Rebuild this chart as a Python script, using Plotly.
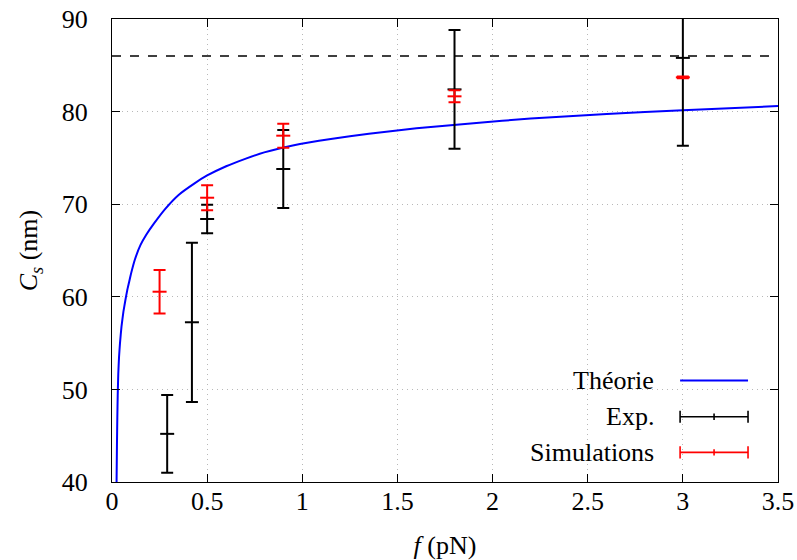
import plotly.graph_objects as go

# ---- data ----
theory_f = [0.024, 0.026, 0.028, 0.030, 0.033, 0.037, 0.042, 0.05, 0.06, 0.07, 0.08, 0.09, 0.10, 0.12, 0.15, 0.18, 0.22, 0.28, 0.35, 0.43, 0.50, 0.60, 0.70, 0.80, 0.95, 1.15, 1.35, 1.60, 1.90, 2.20, 2.60, 3.00, 3.50]
theory_c = [40.0, 44.0, 47.0, 49.3, 51.7, 53.5, 55.0, 56.8, 58.4, 59.6, 60.7, 61.6, 62.5, 64.0, 65.6, 66.7, 67.9, 69.5, 71.0, 72.2, 73.1, 74.1, 74.9, 75.6, 76.35, 77.05, 77.6, 78.2, 78.75, 79.25, 79.75, 80.15, 80.6]

exp_f = [0.29, 0.42, 0.50, 0.90, 1.80, 3.00]
exp_c = [45.2, 57.25, 68.4, 73.8, 82.4, 85.8]
exp_err = [4.2, 8.6, 1.55, 4.2, 6.4, 9.5]

sim_f = [0.25, 0.50, 0.90, 1.80, 3.00]
sim_c = [60.55, 70.7, 77.4, 81.65, 83.7]
sim_err = [2.35, 1.35, 1.3, 0.65, 0.1]

plateau_f = [0.0, 3.5]
plateau_c = [86.0, 86.0]

x_ticks = [0, 0.5, 1, 1.5, 2, 2.5, 3, 3.5]
x_ticklabels = ["0", "0.5", "1", "1.5", "2", "2.5", "3", "3.5"]
y_ticks = [40, 50, 60, 70, 80, 90]

legend_names = ["Théorie", "Exp.", "Simulations"]

BLUE = "#0000ff"
RED = "#ff0000"
BLACK = "#000000"
FONT = "Liberation Serif"
FS = 26

fig = go.Figure()

fig.add_trace(go.Scatter(x=plateau_f, y=plateau_c, mode="lines",
                         line=dict(color=BLACK, width=1.6, dash="dash"),
                         showlegend=False, hoverinfo="skip"))

fig.add_trace(go.Scatter(x=theory_f, y=theory_c, mode="lines",
                         line=dict(color=BLUE, width=2, shape="spline", smoothing=0.4),
                         showlegend=False))

fig.add_trace(go.Scatter(x=exp_f, y=exp_c, mode="markers",
                         marker=dict(symbol="line-ew", size=10, line=dict(color=BLACK, width=2)),
                         error_y=dict(type="data", array=exp_err, color=BLACK, thickness=2, width=6),
                         showlegend=False))

fig.add_trace(go.Scatter(x=sim_f, y=sim_c, mode="markers",
                         marker=dict(symbol="line-ew", size=10, line=dict(color=RED, width=2)),
                         error_y=dict(type="data", array=sim_err, color=RED, thickness=2, width=6),
                         showlegend=False))

# ---- manual legend (gnuplot style: text left, sample right) ----
shapes = [dict(type="rect", xref="paper", yref="paper", x0=0.595, x1=0.995, y0=0.01, y1=0.268,
               fillcolor="white", line=dict(width=0), layer="between")]
rows_y = [0.219, 0.141, 0.064]
sx0, sx1, smid = 0.853, 0.955, 0.904
cap = 0.013
colors = [BLUE, BLACK, RED]
annotations = []
for i, (name, yy, col) in enumerate(zip(legend_names, rows_y, colors)):
    annotations.append(dict(text=name, xref="paper", yref="paper", x=0.817, y=yy,
                            xanchor="right", yanchor="middle", showarrow=False,
                            font=dict(family=FONT, size=FS, color=BLACK)))
    w = 2 if i == 0 else 1.6
    shapes.append(dict(type="line", xref="paper", yref="paper", x0=sx0, x1=sx1, y0=yy, y1=yy,
                       line=dict(color=col, width=w), layer="above"))
    if i > 0:
        for xx in (sx0, sx1):
            shapes.append(dict(type="line", xref="paper", yref="paper", x0=xx, x1=xx,
                               y0=yy - cap, y1=yy + cap, line=dict(color=col, width=1.6), layer="above"))
        shapes.append(dict(type="line", xref="paper", yref="paper", x0=smid, x1=smid,
                           y0=yy - 0.007, y1=yy + 0.007, line=dict(color=col, width=1.6), layer="above"))

axis_common = dict(showline=True, linecolor=BLACK, linewidth=1.3, mirror="ticks",
                   ticks="inside", ticklen=8, tickcolor=BLACK, tickwidth=1,
                   showgrid=True, gridcolor="#b8b8b8", griddash="1px,4px", gridwidth=1,
                   zeroline=False, automargin=False, ticklabeloverflow="allow",
                   tickfont=dict(family=FONT, size=FS, color=BLACK))

fig.update_layout(
    width=797, height=560,
    margin=dict(l=112, r=19, t=19, b=78, autoexpand=False),
    paper_bgcolor="white", plot_bgcolor="white",
    showlegend=False,
    xaxis=dict(range=[0, 3.5], tickvals=x_ticks, ticktext=x_ticklabels, ticklabelstandoff=-4,
               title=dict(text="<i>f</i> (pN)", font=dict(family=FONT, size=FS, color=BLACK), standoff=20),
               **axis_common),
    yaxis=dict(range=[40, 90], tickvals=y_ticks, ticklabelstandoff=18,
               title=dict(text="<i>C</i><sub><i>s</i></sub> (nm)", font=dict(family=FONT, size=FS, color=BLACK), standoff=16),
               **axis_common),
    shapes=shapes,
    annotations=annotations,
)

fig.write_html("out.html", config={"displayModeBar": False},
               post_script="document.body.style.margin='0';document.body.style.overflow='hidden';")
